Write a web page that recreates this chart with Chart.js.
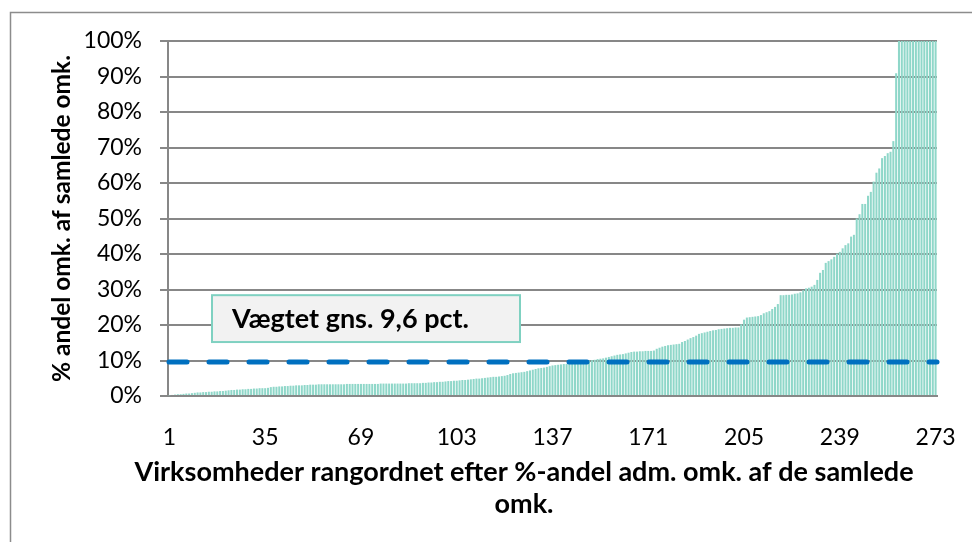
<!DOCTYPE html>
<html>
<head>
<meta charset="utf-8">
<script src="https://cdn.jsdelivr.net/npm/chart.js@4/dist/chart.umd.min.js"></script>
<style>
  html, body { margin: 0; padding: 0; background: #fff; }
  #wrap { width: 972px; height: 542px; }
</style>
</head>
<body>
<div id="wrap"><canvas id="chart" width="972" height="542"></canvas></div>
<script>
// === Data (% per company, sorted) ===
const shares = [
    0.2, 0.3, 0.4, 0.5, 0.5, 0.6, 0.7, 0.7, 0.8, 0.9,
    1.0, 1.0, 1.1, 1.1, 1.2, 1.2, 1.3, 1.3, 1.4, 1.4,
    1.5, 1.6, 1.7, 1.7, 1.8, 1.8, 1.9, 1.9, 2.0, 2.0,
    2.1, 2.1, 2.2, 2.2, 2.2, 2.3, 2.5, 2.6, 2.6, 2.7,
    2.7, 2.8, 2.8, 2.9, 2.9, 3.0, 3.0, 3.0, 3.1, 3.1,
    3.2, 3.2, 3.2, 3.3, 3.3, 3.3, 3.3, 3.3, 3.3, 3.3,
    3.3, 3.3, 3.3, 3.4, 3.4, 3.4, 3.4, 3.4, 3.4, 3.4,
    3.4, 3.4, 3.4, 3.4, 3.4, 3.5, 3.5, 3.5, 3.5, 3.5,
    3.5, 3.5, 3.5, 3.5, 3.5, 3.6, 3.6, 3.6, 3.6, 3.6,
    3.7, 3.7, 3.8, 3.8, 3.9, 3.9, 4.0, 4.0, 4.1, 4.2,
    4.2, 4.3, 4.3, 4.4, 4.5, 4.5, 4.6, 4.7, 4.8, 4.9,
    4.9, 5.0, 5.1, 5.2, 5.3, 5.4, 5.4, 5.5, 5.6, 5.7,
    5.9, 6.2, 6.4, 6.5, 6.6, 6.7, 6.8, 7.0, 7.2, 7.4,
    7.6, 7.8, 7.9, 8.0, 8.2, 8.4, 8.6, 8.7, 8.8, 8.9,
    9.0, 9.0, 9.1, 9.2, 9.3, 9.4, 9.5, 9.6, 9.8, 10.0,
    10.1, 10.2, 10.4, 10.5, 10.6, 10.8, 11.0, 11.2, 11.4, 11.6,
    11.7, 11.8, 12.0, 12.2, 12.4, 12.5, 12.5, 12.6, 12.6, 12.7,
    12.7, 12.7, 12.8, 13.3, 13.6, 13.9, 14.1, 14.3, 14.4, 14.5,
    14.6, 14.7, 15.2, 15.5, 15.9, 16.3, 16.6, 17.0, 17.5, 17.7,
    17.9, 18.1, 18.3, 18.5, 18.6, 18.8, 18.9, 19.0, 19.1, 19.2,
    19.2, 19.3, 19.3, 20.2, 21.5, 22.1, 22.2, 22.3, 22.4, 22.5,
    22.8, 23.3, 23.6, 23.9, 24.5, 25.1, 25.9, 28.4, 28.4, 28.5,
    28.5, 28.6, 28.8, 28.9, 29.2, 29.8, 30.3, 30.5, 30.8, 31.3,
    32.7, 34.7, 35.5, 37.5, 38.0, 38.5, 39.2, 40.1, 40.6, 41.6,
    42.5, 43.0, 44.9, 45.4, 50.0, 51.2, 54.1, 54.1, 56.4, 57.5,
    60.4, 62.9, 64.1, 67.0, 67.6, 68.4, 68.8, 71.8, 90.9, 100,
    100, 100, 100, 100, 100, 100, 100, 100, 100, 100,
    100, 100, 100
];
const ranks = shares.map((v, i) => i + 1);      // rank 1..273
const xTickLabels = [1, 35, 69, 103, 137, 171, 205, 239, 273];
const weightedAvg = 9.6;
const avgLabel = 'Vægtet gns. 9,6 pct.';
const yTitle = '% andel omk. af samlede omk.';
const xTitle = ['Virksomheder rangordnet efter %-andel adm. omk. af de samlede', 'omk.'];

// === Styles ===
const BAR_COLOR = '#8fd7c9';
const GRID_COLOR = '#878787';
const AVG_COLOR = '#0070c0';
const FONT = 'Lato';

// outer frame of the chart object
const framePlugin = {
    id: 'frame',
    beforeDraw(chart) {
        const ctx = chart.ctx;
        ctx.save();
        ctx.fillStyle = '#fff';
        ctx.fillRect(0, 0, chart.width, chart.height);
        ctx.strokeStyle = '#8c8c8c';
        ctx.lineWidth = 1.5;
        ctx.strokeRect(10.5, 12.5, chart.width + 50, chart.height + 50);
        ctx.restore();
    }
};

// dashed weighted average line + label box
const avgPlugin = {
    id: 'avgLine',
    afterDatasetsDraw(chart) {
        const { ctx, chartArea, scales: { y } } = chart;
        const yy = y.getPixelForValue(weightedAvg);
        ctx.save();
        ctx.strokeStyle = AVG_COLOR;
        ctx.lineWidth = 5;
        ctx.lineCap = 'round';
        ctx.setLineDash([18, 22]);
        ctx.beginPath();
        ctx.moveTo(chartArea.left + 1, yy);
        ctx.lineTo(chartArea.right, yy);
        ctx.stroke();
        ctx.setLineDash([]);

        // label box
        const bx = chartArea.left + 44;
        const bw = 308;
        const top = y.getPixelForValue(28.4);
        const bottom = y.getPixelForValue(15.2);
        ctx.fillStyle = '#f2f2f2';
        ctx.fillRect(bx, top, bw, bottom - top);
        ctx.strokeStyle = '#7fd1c1';
        ctx.lineWidth = 2;
        ctx.strokeRect(bx, top, bw, bottom - top);
        ctx.fillStyle = '#000';
        ctx.font = `bold 27px ${FONT}`;
        ctx.textAlign = 'left';
        ctx.textBaseline = 'middle';
        ctx.fillText(avgLabel, bx + 20, (top + bottom) / 2 + 1);
        ctx.restore();
    }
};

// x axis title, centred on the chart object like the original
const xTitlePlugin = {
    id: 'xTitle',
    afterDraw(chart) {
        const ctx = chart.ctx;
        ctx.save();
        ctx.fillStyle = '#000';
        ctx.font = `bold 27px ${FONT}`;
        ctx.textAlign = 'center';
        ctx.textBaseline = 'middle';
        ctx.fillText(xTitle[0], 524, 472);
        ctx.fillText(xTitle[1], 524, 504);
        ctx.restore();
    }
};

const chart = new Chart(document.getElementById('chart'), {
    type: 'bar',
    data: {
        labels: ranks,
        datasets: [{
            data: shares,
            backgroundColor: BAR_COLOR,
            borderWidth: 0,
            categoryPercentage: 1,
            barPercentage: 0.72
        }]
    },
    options: {
        responsive: false,
        animation: false,
        layout: { padding: { top: 41, right: 35, left: 0, bottom: 0 } },
        plugins: {
            legend: { display: false },
            tooltip: { enabled: false }
        },
        scales: {
            x: {
                grid: { display: false, drawTicks: false },
                border: { display: true, color: GRID_COLOR, width: 2 },
                ticks: {
                    autoSkip: false,
                    maxRotation: 0,
                    padding: 28,
                    color: '#000',
                    font: { family: FONT, size: 23 },
                    callback: (value, index) => xTickLabels.includes(ranks[index]) ? String(ranks[index]) : ''
                },
                afterFit: (scale) => {
                    scale.height = 146;
                    scale.paddingLeft = 0;
                    scale.paddingRight = 0;
                }
            },
            y: {
                min: 0,
                max: 100,
                grid: { color: GRID_COLOR, lineWidth: 2, tickLength: 8 },
                border: { display: true, color: GRID_COLOR, width: 2 },
                ticks: {
                    stepSize: 10,
                    padding: 18,
                    color: '#000',
                    font: { family: FONT, size: 23 },
                    callback: (v) => v + '%'
                },
                title: {
                    display: true,
                    text: yTitle,
                    color: '#000',
                    font: { family: FONT, size: 24.5, weight: 'bold' },
                    padding: { top: 47, bottom: 0 }
                },
                afterFit: (scale) => { scale.width = 168; }
            }
        }
    },
    plugins: [framePlugin, avgPlugin, xTitlePlugin]
});
</script>
</body>
</html>
